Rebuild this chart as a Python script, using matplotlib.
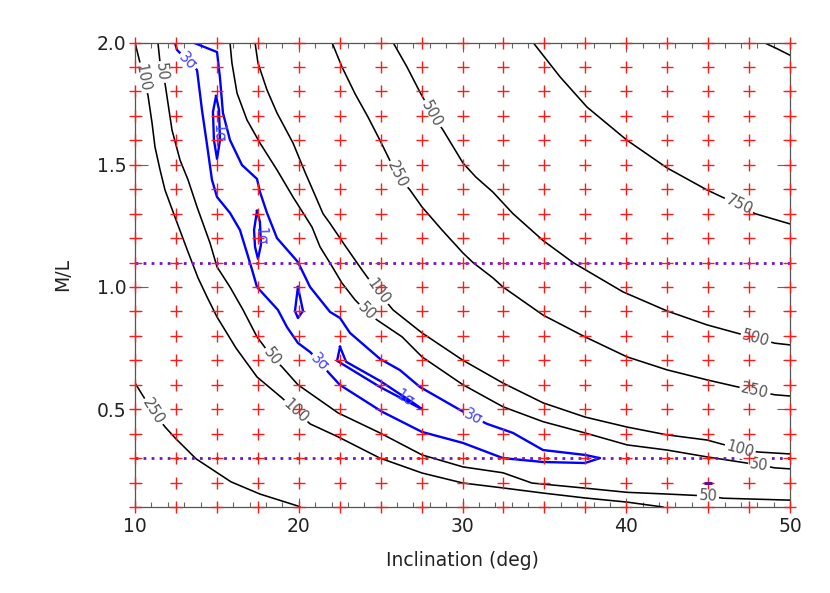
import numpy as np
import matplotlib
matplotlib.use("Agg")
import matplotlib.pyplot as plt

# ---------------- data ----------------
# model grid (red plus signs)
incl_grid = [10.0, 12.5, 15.0, 17.5, 20.0, 22.5, 25.0, 27.5, 30.0, 32.5, 35.0,
             37.5, 40.0, 42.5, 45.0, 47.5, 50.0]
ml_grid = [0.1, 0.2, 0.3, 0.4, 0.5, 0.6, 0.7, 0.8, 0.9, 1.0,
           1.1, 1.2, 1.3, 1.4, 1.5, 1.6, 1.7, 1.8, 1.9, 2.0]

# horizontal dotted M/L limits
ml_limits = [0.3, 1.1]
# best fit point
best_incl = [45.0]
best_ml = [0.2]

# black chi^2 contours (inclination, M/L)
c100_low_x = [10.0, 10.31, 10.49, 10.79, 11.04, 11.22, 11.53, 11.83, 12.44, 13.24, 13.85,
              14.40, 15.01, 16.17, 17.45, 18.98, 19.83, 20.69, 22.40, 24.96, 27.53,
              30.03, 32.47, 34.92, 37.48, 40.05, 42.24]
c100_low_y = [2.0, 1.916, 1.855, 1.785, 1.671, 1.573, 1.479, 1.397, 1.286, 1.143, 1.037,
              0.959, 0.877, 0.75, 0.632, 0.546, 0.493, 0.44, 0.387, 0.30, 0.239,
              0.198, 0.178, 0.157, 0.137, 0.12, 0.10]

c50_low_x = [11.40, 11.59, 11.83, 12.26, 12.75, 13.24, 13.79, 14.58, 15.01, 15.80, 16.60,
             17.45, 18.37, 18.98, 19.95, 22.40, 24.96, 27.53, 30.03, 32.47, 34.24,
             37.36, 40.05, 42.49, 44.99, 45.91, 50.0]
c50_low_y = [2.0, 1.879, 1.834, 1.642, 1.519, 1.438, 1.327, 1.18, 1.082, 1.0, 0.906,
             0.796, 0.714, 0.673, 0.60, 0.485, 0.403, 0.313, 0.264, 0.24, 0.198,
             0.178, 0.16, 0.153, 0.145, 0.136, 0.128]

c250_low_x = [10.0, 11.10, 11.83, 12.44, 13.73, 15.86, 17.63, 19.95, 20.08]
c250_low_y = [0.607, 0.489, 0.428, 0.383, 0.297, 0.203, 0.153, 0.104, 0.10]

c50_up_x = [15.80, 15.92, 16.23, 16.84, 17.63, 18.67, 19.65, 20.81, 21.30, 21.91, 22.64,
            23.44, 24.17, 24.78, 26.31, 27.53, 30.03, 32.47, 34.92, 37.48, 40.05,
            42.49, 44.93, 48.11, 49.08, 50.0]
c50_up_y = [2.0, 1.916, 1.793, 1.683, 1.589, 1.479, 1.368, 1.245, 1.164, 1.098, 1.016,
            0.947, 0.898, 0.865, 0.796, 0.714, 0.60, 0.51, 0.449, 0.403, 0.354,
            0.333, 0.305, 0.272, 0.26, 0.256]

c100_up_x = [17.33, 17.51, 18.06, 18.67, 19.65, 20.38, 20.99, 21.48, 21.91, 22.82, 23.86,
             24.84, 25.76, 27.53, 30.03, 32.47, 34.92, 37.48, 40.05, 42.49, 44.93,
             46.95, 48.05, 50.0]
c100_up_y = [2.0, 1.916, 1.806, 1.712, 1.589, 1.47, 1.376, 1.30, 1.26, 1.17, 1.07,
             0.98, 0.906, 0.812, 0.70, 0.607, 0.526, 0.468, 0.427, 0.395, 0.374,
             0.337, 0.325, 0.317]

c250_up_x = [22.03, 22.64, 23.44, 24.23, 24.96, 26.0, 26.79, 27.53, 28.75, 30.03, 30.64,
             31.86, 32.47, 34.92, 37.48, 40.05, 42.49, 44.93, 47.86, 49.08, 50.0]
c250_up_y = [2.0, 1.90, 1.79, 1.695, 1.60, 1.458, 1.397, 1.327, 1.233, 1.139, 1.10,
             1.037, 1.0, 0.885, 0.796, 0.714, 0.661, 0.62, 0.575, 0.559, 0.554]

c500_x = [25.76, 26.61, 27.40, 28.14, 28.81, 30.03, 30.81, 31.86, 33.08, 34.92, 36.75,
          39.80, 42.49, 44.93, 47.92, 49.08, 50.0]
c500_y = [2.0, 1.90, 1.797, 1.708, 1.642, 1.507, 1.45, 1.388, 1.30, 1.19, 1.10,
          0.98, 0.902, 0.845, 0.79, 0.77, 0.763]

c750_x = [34.31, 35.95, 37.60, 40.05, 42.49, 44.93, 46.89, 47.86, 50.0]
c750_y = [2.0, 1.86, 1.736, 1.60, 1.487, 1.397, 1.335, 1.30, 1.258]

c1000_x = [48.40, 49.20, 50.0]
c1000_y = [2.0, 1.975, 1.948]

# blue 3-sigma contour (one open curve)
s3_x = [12.44, 12.56, 13.24, 13.79, 14.09, 14.40, 14.70, 15.01, 15.80, 16.41, 16.84,
        17.15, 17.45, 18.73, 19.28, 19.95, 20.69, 21.30, 21.79, 22.52, 25.08, 27.53,
        30.03, 32.47, 34.92, 37.48, 38.40,
        37.48, 34.92, 33.08, 31.50, 30.64, 29.85, 27.40, 26.18, 24.96, 23.13, 22.52,
        21.91, 20.69, 19.95, 18.67, 18.06, 17.63, 17.45, 16.53, 15.80, 15.37, 15.19,
        15.01, 13.54]
s3_y = [2.0, 1.97, 1.924, 1.887, 1.724, 1.581, 1.438, 1.368, 1.303, 1.233, 1.139,
        1.07, 1.0, 0.906, 0.836, 0.771, 0.734, 0.693, 0.652, 0.599, 0.49, 0.407,
        0.362, 0.30, 0.284, 0.28, 0.30,
        0.313, 0.333, 0.403, 0.44, 0.468, 0.497, 0.591, 0.66, 0.706, 0.812, 0.873,
        0.898, 1.0, 1.102, 1.20, 1.303, 1.389, 1.442, 1.499, 1.601, 1.712, 1.855,
        1.961, 2.0]

# blue 1-sigma closed loops
s1a_x = [14.95, 14.76, 14.82, 15.01, 15.19, 15.13, 14.95]
s1a_y = [1.781, 1.716, 1.601, 1.524, 1.601, 1.724, 1.781]
s1b_x = [17.45, 17.27, 17.33, 17.51, 17.69, 17.63, 17.45]
s1b_y = [1.311, 1.233, 1.164, 1.115, 1.172, 1.266, 1.311]
s1c_x = [19.95, 19.77, 19.95, 20.26, 19.95]
s1c_y = [1.0, 0.902, 0.873, 0.902, 1.0]
s1d_x = [22.52, 22.34, 24.96, 27.53, 27.10, 24.96, 22.89, 22.52]
s1d_y = [0.755, 0.698, 0.591, 0.50, 0.521, 0.616, 0.694, 0.755]

# contour labels: (curve, text, x, y)
label_list = [
    ("c100_low", "100", 10.49, 1.855), ("c100_low", "100", 19.83, 0.493),
    ("c50_low", "50", 11.59, 1.879), ("c50_low", "50", 18.37, 0.714),
    ("c50_low", "50", 44.99, 0.145),
    ("c250_low", "250", 11.10, 0.489),
    ("c50_up", "50", 24.17, 0.898), ("c50_up", "50", 48.11, 0.272),
    ("c100_up", "100", 24.84, 0.98), ("c100_up", "100", 46.95, 0.337),
    ("c250_up", "250", 26.0, 1.458), ("c250_up", "250", 47.86, 0.575),
    ("c500", "500", 28.14, 1.708), ("c500", "500", 47.92, 0.79),
    ("c750", "750", 46.89, 1.335),
    ("s3", "3σ", 13.24, 1.924), ("s3", "3σ", 21.30, 0.693), ("s3", "3σ", 30.64, 0.468),
    ("s1a", "1σ", 15.07, 1.63), ("s1b", "1σ", 17.63, 1.21), ("s1d", "1σ", 26.49, 0.546),
]

# ---------------- figure ----------------
plt.rcParams["font.family"] = ["DejaVu Sans"]
fig = plt.figure(figsize=(8.3, 5.93), dpi=100)
ax = fig.add_axes([135 / 830, 1 - 507 / 593, 655 / 830, 464.5 / 593])
ax.set_xlim(10, 50)
ax.set_ylim(0.1, 2.0)

black_curves = {
    "c100_low": (c100_low_x, c100_low_y), "c50_low": (c50_low_x, c50_low_y),
    "c250_low": (c250_low_x, c250_low_y), "c50_up": (c50_up_x, c50_up_y),
    "c100_up": (c100_up_x, c100_up_y), "c250_up": (c250_up_x, c250_up_y),
    "c500": (c500_x, c500_y), "c750": (c750_x, c750_y), "c1000": (c1000_x, c1000_y),
}
blue_curves = {
    "s3": (s3_x, s3_y), "s1a": (s1a_x, s1a_y), "s1b": (s1b_x, s1b_y),
    "s1c": (s1c_x, s1c_y), "s1d": (s1d_x, s1d_y),
}
for k, (xs, ys) in black_curves.items():
    ax.plot(xs, ys, color="black", lw=1.15, zorder=2, solid_joinstyle="round")
for k, (xs, ys) in blue_curves.items():
    ax.plot(xs, ys, color="#0000ff", lw=1.7, zorder=2, solid_joinstyle="round")

# dotted limits
for yl in ml_limits:
    ax.axhline(yl, color="#7010d8", lw=2.0, ls=(0, (1, 1.9)), zorder=3)

all_curves = dict(black_curves)
all_curves.update(blue_curves)
fig.canvas.draw()
for key, txt, lx, ly in label_list:
    xs, ys = all_curves[key]
    pts = ax.transData.transform(np.column_stack([xs, ys]))
    p = ax.transData.transform((lx, ly))
    best, ang = 1e9, 0.0
    for i in range(len(pts) - 1):
        a, b = pts[i], pts[i + 1]
        d = b - a
        t = np.clip(np.dot(p - a, d) / max(np.dot(d, d), 1e-9), 0, 1)
        dist = np.linalg.norm(a + t * d - p)
        if dist < best:
            best = dist
            ang = np.degrees(np.arctan2(d[1], d[0]))
    while ang > 90:
        ang -= 180
    while ang <= -90:
        ang += 180
    if key.startswith("s1") and abs(ang) > 60:
        ang = -88
    blue = key.startswith("s")
    col = "#4646ff" if blue else "#555555"
    kw = {}
    if not key.startswith("s1"):
        kw["bbox"] = dict(boxstyle="square,pad=0.12", fc="white", ec="none")
    ax.text(lx, ly, txt, rotation=ang, rotation_mode="anchor", ha="center", va="center",
            fontsize=10.5, color=col, zorder=4, **kw)

# grid of models
gx, gy = np.meshgrid(incl_grid, ml_grid)
ax.plot(gx.ravel(), gy.ravel(), ls="none", marker="+", ms=8.5, mew=1.0,
        color="#ff1a1a", zorder=5, clip_on=False)
ax.plot(best_incl, best_ml, ls="none", marker="_", ms=6, mew=2.2, color="#6a0a8a", zorder=6)

# axes styling
for s in ax.spines.values():
    s.set_color("#555555")
    s.set_linewidth(0.9)
ax.set_xticks([10, 20, 30, 40, 50])
ax.set_xticks(np.linspace(10, 50, 41), minor=True)
ax.set_yticks([0.5, 1.0, 1.5, 2.0])
ax.set_yticklabels(["0.5", "1.0", "1.5", "2.0"])
ax.set_yticks(np.linspace(0.1, 2.0, 20), minor=True)
ax.tick_params(which="both", direction="in", top=True, right=True, colors="#666666",
               labelcolor="#222222", labelsize=13.5, width=0.8)
ax.tick_params(axis="x", which="major", length=6.7, pad=7)
ax.tick_params(axis="x", which="minor", length=3.4)
ax.tick_params(axis="y", which="major", length=9.4, pad=6)
ax.tick_params(axis="y", which="minor", length=4.7)

ax.set_xlabel("Inclination (deg)", fontsize=13.5, color="#222222")
ax.set_ylabel("M/L", fontsize=13.5, color="#222222")
ax.xaxis.set_label_coords(0.5, -(560 - 507) / 464.5)
ax.yaxis.set_label_coords((63 - 135) / 655, 0.5)
ax.xaxis.label.set_va("center")
ax.yaxis.label.set_va("center")

fig.savefig("out.png", dpi=100)
